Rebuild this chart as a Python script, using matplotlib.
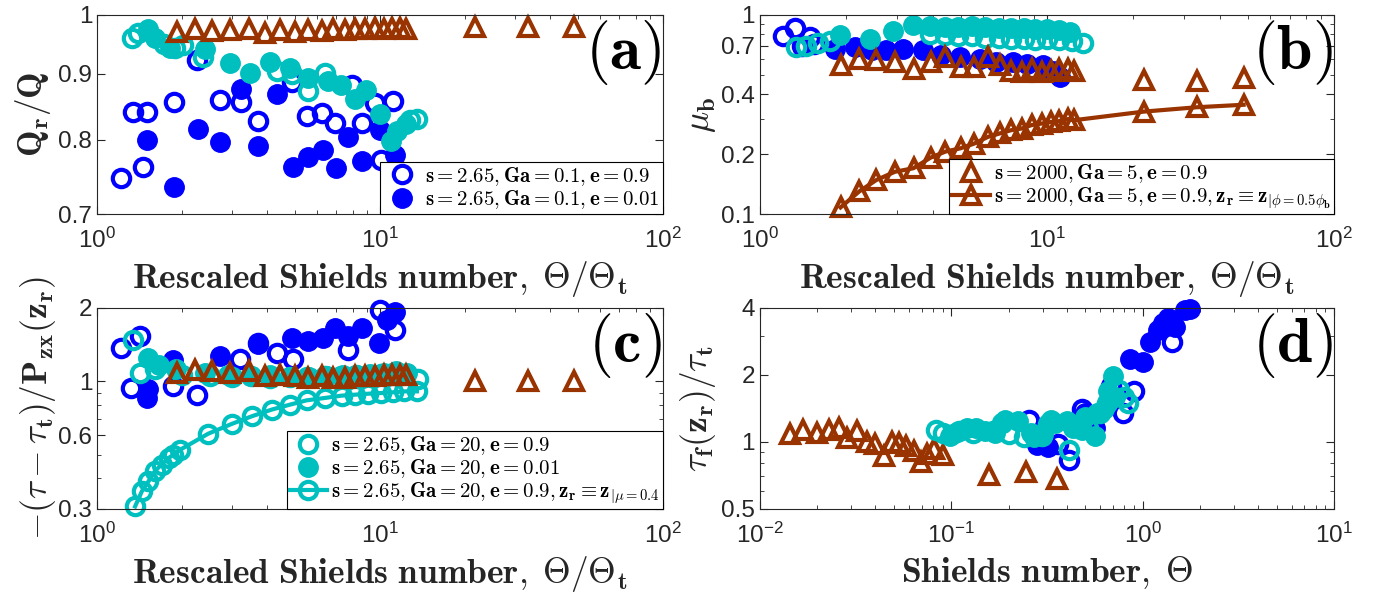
import matplotlib
matplotlib.use("Agg")
import matplotlib.pyplot as plt
from matplotlib.ticker import NullFormatter, LogLocator, FixedLocator

plt.rcParams['mathtext.fontset'] = 'cm'
plt.rcParams['font.family'] = ['Liberation Sans', 'DejaVu Sans']

BLUE = '#0000ff'
CYAN = '#00bfbf'
BROWN = '#993300'
AXC = '#262626'

# ---- data ----
tri_x = [1.91, 2.22, 2.54, 2.95, 3.43, 3.93, 4.43, 5.0, 5.58, 6.22, 6.84, 7.52, 8.16,
         8.85, 9.6, 10.3, 11.0, 11.8, 12.4, 21.7, 33.3, 48.4]

# (a)
a_bo_x = [1.22, 1.34, 1.45, 1.50, 1.87, 2.25, 2.72, 3.22, 3.72, 4.87, 5.50, 6.22, 6.94, 7.94, 8.60, 9.60, 10.1, 11.1]
a_bo_y = [0.747, 0.840, 0.761, 0.840, 0.856, 0.923, 0.859, 0.855, 0.827, 0.887, 0.834, 0.839, 0.824, 0.882, 0.824, 0.854, 0.771, 0.857]
a_bf_x = [1.50, 1.87, 2.28, 2.72, 3.22, 3.72, 4.31, 4.91, 5.58, 6.30, 7.00, 7.73, 8.60, 10.0, 11.3]
a_bf_y = [0.800, 0.735, 0.815, 0.797, 0.876, 0.791, 0.868, 0.762, 0.776, 0.785, 0.760, 0.803, 0.770, 0.814, 0.778]
a_co_x = [1.33, 1.40, 1.72, 1.89, 2.02, 2.37, 4.31, 4.90, 5.58, 6.40, 12.8, 13.5]
a_co_y = [0.960, 0.969, 0.950, 0.942, 0.947, 0.927, 0.905, 0.900, 0.872, 0.902, 0.828, 0.830]
a_cf_x = [1.52, 1.60, 1.81, 2.41, 2.95, 3.47, 4.08, 4.80, 5.58, 6.56, 7.30, 8.16, 8.95, 10.0, 10.97, 11.5, 12.4]
a_cf_y = [0.975, 0.960, 0.942, 0.941, 0.918, 0.902, 0.920, 0.910, 0.893, 0.888, 0.882, 0.861, 0.874, 0.838, 0.798, 0.812, 0.822]
a_tri_y = [0.970, 0.976, 0.971, 0.973, 0.975, 0.969, 0.973, 0.970, 0.974, 0.971, 0.975, 0.973, 0.976,
           0.975, 0.977, 0.976, 0.977, 0.977, 0.976, 0.978, 0.978, 0.978]

# (b)
b_bo_x = [1.205, 1.33, 1.40, 1.49, 1.55]
b_bo_y = [0.788, 0.857, 0.70, 0.773, 0.716]
b_bf_x = [1.83, 2.14, 2.45, 2.76, 3.15, 3.70, 4.29, 4.97, 5.83, 6.67, 7.62, 8.5, 9.7, 10.5, 11.1]
b_bf_y = [0.676, 0.69, 0.67, 0.67, 0.676, 0.668, 0.626, 0.614, 0.603, 0.579, 0.579, 0.569, 0.558, 0.526, 0.488]
b_co_x = [1.34, 1.45, 1.60, 1.75, 3.9, 4.4, 4.9, 5.5, 6.1, 6.8, 7.5, 8.3, 9.1, 10.0, 11.0, 12.2, 13.4]
b_co_y = [0.69, 0.70, 0.72, 0.74, 0.80, 0.79, 0.78, 0.78, 0.77, 0.77, 0.76, 0.76, 0.75, 0.76, 0.75, 0.74, 0.72]
b_cf_x = [1.9, 2.42, 2.91, 3.42, 3.9, 4.4, 4.9, 5.5, 6.1, 6.8, 7.5, 8.3, 9.1, 10.0, 11.0, 12.0]
b_cf_y = [0.79, 0.76, 0.83, 0.89, 0.88, 0.87, 0.87, 0.88, 0.87, 0.86, 0.86, 0.86, 0.85, 0.85, 0.84, 0.82]
b_tri_y = [0.558, 0.603, 0.591, 0.579, 0.537, 0.579, 0.614, 0.547, 0.547, 0.614, 0.558, 0.526, 0.516,
           0.537, 0.516, 0.526, 0.537, 0.537, 0.526, 0.472, 0.466, 0.48]
b_line_y = [0.108, 0.130, 0.148, 0.163, 0.170, 0.192, 0.206, 0.214, 0.226, 0.244, 0.254, 0.264, 0.269,
            0.280, 0.285, 0.290, 0.293, 0.300, 0.296, 0.327, 0.344, 0.354]

# (c)
c_bo_x = [1.22, 1.32, 1.42, 1.86, 2.25, 3.20, 3.72, 4.31, 4.94, 7.73, 10.0, 11.3]
c_bo_y = [1.37, 0.94, 1.53, 0.96, 0.882, 1.23, 1.44, 1.31, 1.23, 1.35, 1.97, 1.63]
c_bf_x = [1.50, 1.52, 1.86, 2.72, 3.72, 4.87, 5.58, 6.30, 6.94, 7.73, 8.60, 9.90, 10.6, 11.3]
c_bf_y = [0.855, 0.93, 1.22, 1.27, 1.42, 1.51, 1.46, 1.51, 1.65, 1.53, 1.65, 1.44, 1.79, 1.93]
c_co_x = [1.34, 1.42, 1.6, 2.0, 2.5, 3.0, 3.5, 4.1, 4.8, 5.5, 6.4, 7.3, 8.2, 9.1, 10.1, 11.1, 12.2, 13.6]
c_co_y = [1.48, 1.08, 1.12, 1.06, 1.05, 1.04, 1.05, 1.03, 1.04, 1.04, 1.05, 1.05, 1.06, 1.06, 1.07, 1.08, 1.07, 1.02]
c_cf_x = [1.52, 1.65, 1.9, 2.4, 2.9, 3.5, 4.1, 4.8, 5.6, 6.5, 7.4, 8.3, 9.2, 10.3, 11.4, 12.5]
c_cf_y = [1.25, 1.17, 1.12, 1.08, 1.06, 1.05, 1.06, 1.04, 1.04, 1.05, 1.06, 1.06, 1.07, 1.08, 1.10, 1.08]
c_line_x = [1.363, 1.44, 1.52, 1.60, 1.69, 1.79, 1.86, 1.97, 2.47, 2.99, 3.52, 4.14, 4.81, 5.5, 6.38,
            7.31, 8.16, 9.08, 10.1, 11.1, 12.2, 13.5]
c_line_y = [0.307, 0.354, 0.389, 0.428, 0.456, 0.485, 0.50, 0.525, 0.61, 0.669, 0.719, 0.766, 0.803,
            0.836, 0.855, 0.874, 0.882, 0.890, 0.896, 0.902, 0.91, 0.91]
c_tri_y = [1.08, 1.117, 1.10, 1.08, 1.10, 1.05, 1.065, 1.05, 1.03, 1.05, 1.03, 1.03, 1.05,
           1.05, 1.05, 1.06, 1.06, 1.06, 1.06, 1.0, 1.0, 1.0]

# (d)
d_tri_x = [0.0144, 0.0169, 0.0199, 0.0229, 0.026, 0.0285, 0.0322, 0.0364, 0.0402, 0.0444, 0.0492,
           0.0533, 0.0578, 0.064, 0.0693, 0.0751, 0.0815, 0.090, 0.158, 0.247, 0.355]
d_tri_y = [1.09, 1.13, 1.10, 1.13, 1.15, 1.04, 1.12, 1.0, 0.98, 0.86, 1.0, 0.99, 0.96, 0.91, 0.81,
           0.88, 0.93, 0.87, 0.71, 0.73, 0.68]
d_co_x = [0.0836, 0.09, 0.11, 0.13, 0.165, 0.185, 0.2, 0.24, 0.298, 0.32, 0.41, 0.45, 0.52, 0.6, 0.65, 0.75, 0.8, 0.84]
d_co_y = [1.135, 1.10, 1.12, 1.10, 1.12, 1.22, 1.08, 1.05, 1.06, 1.2, 0.92, 1.18, 1.15, 1.35, 1.5, 1.72, 1.6, 1.50]
d_cf_x = [0.098, 0.105, 0.121, 0.135, 0.150, 0.17, 0.19, 0.222, 0.26, 0.27, 0.3, 0.33, 0.35, 0.40,
          0.43, 0.48, 0.5, 0.56, 0.58, 0.63, 0.66, 0.70, 0.72]
d_cf_y = [1.06, 1.1, 1.156, 1.15, 1.12, 1.1, 1.25, 1.24, 1.10, 1.05, 1.08, 1.25, 1.22, 1.24,
          1.15, 1.13, 1.3, 1.06, 1.35, 1.40, 1.7, 1.98, 1.6]
d_bo_x = [0.254, 0.30, 0.36, 0.41, 0.48, 0.68, 0.79, 0.90, 1.42]
d_bo_y = [1.26, 1.0, 0.98, 0.83, 1.40, 1.78, 1.35, 1.69, 2.8]
d_bf_x = [0.28, 0.32, 0.5, 0.56, 0.86, 1.0, 1.09, 1.2, 1.27, 1.35, 1.47, 1.67, 1.76]
d_bf_y = [0.97, 0.95, 1.35, 1.15, 2.35, 2.28, 2.8, 3.2, 3.44, 3.6, 3.3, 3.9, 3.95]

# ---- styles ----
MS_O = 12.5
MS_F = 14
MS_T = 13
MEW = 3
LAB = 25.5
TICK = 17.5


def open_c(ax, x, y, c, **kw):
    return ax.plot(x, y, 'o', ms=MS_O, mfc='none', mec=c, mew=MEW, clip_on=False, **kw)[0]


def fill_c(ax, x, y, c, **kw):
    return ax.plot(x, y, 'o', ms=MS_F, mfc=c, mec=c, mew=1, clip_on=False, **kw)[0]


def tri(ax, x, y, ls='none', **kw):
    return ax.plot(x, y, marker='^', ls=ls, lw=3, color=BROWN, ms=MS_T, mfc='none',
                   mec=BROWN, mew=MEW, clip_on=False, **kw)[0]


def style(ax, yticks, ylabels, ylim, xlim, xticks):
    ax.set_xscale('log')
    ax.set_yscale('log')
    ax.set_xlim(xlim)
    ax.set_ylim(ylim)
    ax.xaxis.set_major_locator(FixedLocator(xticks))
    ax.xaxis.set_minor_locator(LogLocator(subs=range(2, 10)))
    ax.xaxis.set_minor_formatter(NullFormatter())
    ax.yaxis.set_major_locator(FixedLocator(yticks))
    ax.set_yticklabels(ylabels)
    ax.yaxis.set_minor_locator(LogLocator(subs=range(1, 10)))
    ax.yaxis.set_minor_formatter(NullFormatter())
    ax.tick_params(which='both', direction='in', top=True, right=True, colors=AXC, labelsize=TICK)
    ax.tick_params(axis='x', which='major', pad=10)
    ax.tick_params(which='major', length=6, width=0.8)
    ax.tick_params(which='minor', length=3, width=0.6)
    for s in ax.spines.values():
        s.set_color(AXC)
        s.set_linewidth(0.8)


def legend(ax, handles, labels):
    leg = ax.legend(handles, labels, loc='lower right', bbox_to_anchor=(1, 0), borderaxespad=0,
                    fancybox=False, edgecolor='k', framealpha=1, fontsize=15, handlelength=1.8,
                    handletextpad=0.2, borderpad=0.15, labelspacing=0.02)
    leg.get_frame().set_linewidth(0.8)
    return leg


fig = plt.figure(figsize=(13.74, 5.98), dpi=100)
axa = fig.add_axes([0.0706, 0.642, 0.412, 0.333])
axb = fig.add_axes([0.553, 0.642, 0.418, 0.333])
axc = fig.add_axes([0.0706, 0.149, 0.412, 0.336])
axd = fig.add_axes([0.553, 0.149, 0.418, 0.336])

xl_res = r'$\mathbf{Rescaled\ Shields\ number,\;\Theta/\Theta_t}$'

# (a)
h1 = open_c(axa, a_bo_x, a_bo_y, BLUE)
h2 = fill_c(axa, a_bf_x, a_bf_y, BLUE)
open_c(axa, a_co_x, a_co_y, CYAN)
fill_c(axa, a_cf_x, a_cf_y, CYAN)
tri(axa, tri_x, a_tri_y)
style(axa, [0.7, 0.8, 0.9, 1], ['0.7', '0.8', '0.9', '1'], (0.7, 1), (1, 100), [1, 10, 100])
axa.set_ylabel(r'$\mathbf{Q_r/Q}$', fontsize=LAB, color=AXC, labelpad=4)
axa.set_xlabel(xl_res, fontsize=LAB, color=AXC, labelpad=4)
legend(axa, [h1, h2], [r'$\mathbf{s = 2.65, Ga = 0.1, e = 0.9}$',
                       r'$\mathbf{s = 2.65, Ga = 0.1, e = 0.01}$'])
axa.text(0.998, 0.985, r'$\mathbf{(a)}$', transform=axa.transAxes, ha='right', va='top', fontsize=46)

# (b)
open_c(axb, b_bo_x, b_bo_y, BLUE)
fill_c(axb, b_bf_x, b_bf_y, BLUE)
open_c(axb, b_co_x, b_co_y, CYAN)
fill_c(axb, b_cf_x, b_cf_y, CYAN)
h1 = tri(axb, tri_x, b_tri_y)
h2 = tri(axb, tri_x, b_line_y, ls='-')
style(axb, [0.1, 0.2, 0.4, 0.7, 1], ['0.1', '0.2', '0.4', '0.7', '1'], (0.1, 1), (1, 100), [1, 10, 100])
axb.set_ylabel(r'$\mu_\mathbf{b}$', fontsize=LAB, color=AXC, labelpad=2)
axb.set_xlabel(xl_res, fontsize=LAB, color=AXC, labelpad=4)
legend(axb, [h1, h2], [r'$\mathbf{s = 2000, Ga = 5, e = 0.9}$',
                       r'$\mathbf{s = 2000, Ga = 5, e = 0.9, z_r \equiv z}_{|\phi=0.5\phi_\mathbf{b}}$'])
axb.text(0.998, 0.985, r'$\mathbf{(b)}$', transform=axb.transAxes, ha='right', va='top', fontsize=46)

# (c)
open_c(axc, c_bo_x, c_bo_y, BLUE)
fill_c(axc, c_bf_x, c_bf_y, BLUE)
h1 = open_c(axc, c_co_x, c_co_y, CYAN)
h2 = fill_c(axc, c_cf_x, c_cf_y, CYAN)
h3 = axc.plot(c_line_x, c_line_y, 'o-', color=CYAN, lw=3, ms=MS_O, mfc='none', mec=CYAN, mew=MEW,
              clip_on=False)[0]
tri(axc, tri_x, c_tri_y)
style(axc, [0.3, 0.6, 1, 2], ['0.3', '0.6', '1', '2'], (0.3, 2), (1, 100), [1, 10, 100])
axc.set_ylabel(r'$-(\tau-\tau_\mathbf{t})/\mathbf{P_{zx}(z_r)}$', fontsize=LAB, color=AXC, labelpad=0)
axc.set_xlabel(xl_res, fontsize=LAB, color=AXC, labelpad=4)
legend(axc, [h1, h2, h3], [r'$\mathbf{s = 2.65, Ga = 20, e = 0.9}$',
                           r'$\mathbf{s = 2.65, Ga = 20, e = 0.01}$',
                           r'$\mathbf{s = 2.65, Ga = 20, e = 0.9, z_r \equiv z}_{|\mu=0.4}$'])
axc.text(0.998, 0.985, r'$\mathbf{(c)}$', transform=axc.transAxes, ha='right', va='top', fontsize=46)

# (d)
tri(axd, d_tri_x, d_tri_y)
open_c(axd, d_bo_x, d_bo_y, BLUE)
fill_c(axd, d_bf_x, d_bf_y, BLUE)
open_c(axd, d_co_x, d_co_y, CYAN)
fill_c(axd, d_cf_x, d_cf_y, CYAN)
style(axd, [0.5, 1, 2, 4], ['0.5', '1', '2', '4'], (0.5, 4), (0.01, 10), [0.01, 0.1, 1, 10])
axd.set_ylabel(r'$\tau_\mathbf{f}(\mathbf{z_r})/\tau_\mathbf{t}$', fontsize=LAB, color=AXC, labelpad=2)
axd.set_xlabel(r'$\mathbf{Shields\ number,\;\Theta}$', fontsize=LAB, color=AXC, labelpad=4)
axd.text(0.998, 0.985, r'$\mathbf{(d)}$', transform=axd.transAxes, ha='right', va='top', fontsize=46)

fig.savefig('out.png', dpi=100)
